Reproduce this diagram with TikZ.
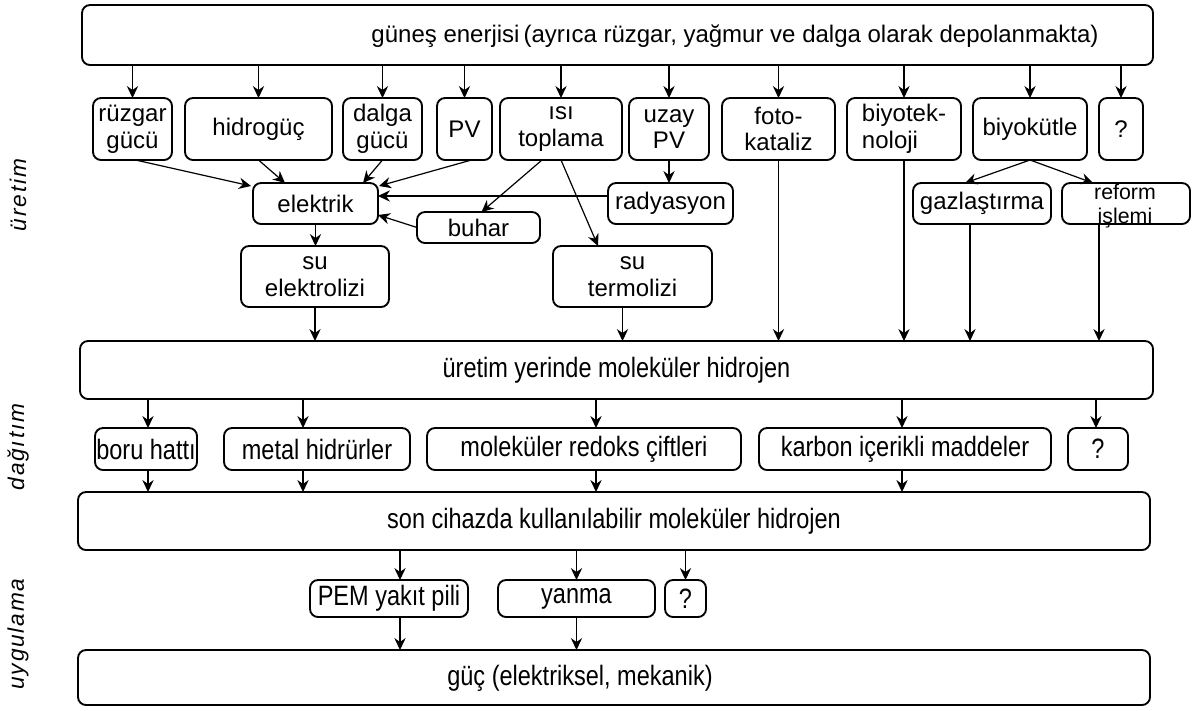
\documentclass[tikz,border=0pt]{standalone}
\usepackage{fontspec}
\setmainfont{Liberation Sans}
\newfontfamily\narrowfont[FakeStretch=0.84]{Liberation Sans}
\newfontfamily\sidefont[LetterSpace=8]{Liberation Sans}
\usetikzlibrary{arrows.meta,calc}
\newcommand\mybox[7]{%
  \pgfmathsetmacro\bxcx{(#3+#5)/2}\pgfmathsetmacro\bxcy{(#4+#6)/2}%
  \pgfmathsetmacro\bxw{(#5-#3)*0.75}\pgfmathsetmacro\bxh{(#6-#4)*0.75}%
  \node[#1, minimum width=\bxw pt, minimum height=\bxh pt] (#2) at (\bxcx,\bxcy) {#7};}
\begin{document}
\begin{tikzpicture}[x=0.75pt,y=-0.75pt,
  bx/.style={draw, line width=1.4pt, rounded corners=6pt, inner sep=0pt, outer sep=0pt, align=center,
    font=\fontsize{18}{20}\selectfont},
  nb/.style={bx, font=\narrowfont\fontsize{21}{22}\selectfont},
  ntxt/.style={inner sep=0pt, font=\narrowfont\fontsize{21}{22}\selectfont},
  arr/.style={line width=0.9pt, -{Stealth[length=9pt,width=8.5pt,inset=3pt]}},
  side/.style={rotate=90, inner sep=0pt, font=\sidefont\itshape\fontsize{17}{17}\selectfont}
]
\useasboundingbox (0,0) rectangle (1197,711);

% side labels
\node[side] (l1) at (18,195) {üretim};
\node[side] (l2) at (18,447) {dağıtım};
\node[side] (l3) at (18,634) {uygulama};

% top box
\mybox{bx}{sun}{82}{5}{1153}{65}{}
\node[inner sep=0pt, font=\fontsize{18}{20}\selectfont] (suntxt) at (735,36)
  {güneş enerjisi\,(ayrıca rüzgar, yağmur ve dalga olarak depolanmakta)};

% row 2
\mybox{bx}{ruz}{93}{98}{172}{160}{rüzgar\\gücü}
\mybox{bx}{hid}{185}{98}{332}{160}{hidrogüç}
\mybox{bx}{dal}{343}{98}{422}{160}{dalga\\gücü}
\mybox{bx}{pv}{437}{98}{492}{160}{PV}
\mybox{bx}{isi}{500}{98}{622}{160}{ısı\\toplama}
\mybox{bx}{uzay}{629}{98}{709}{160}{uzay\\PV}
\mybox{bx}{foto}{722}{98}{835}{160}{foto-\\kataliz}
\mybox{bx,align=left}{biot}{847}{98}{961}{160}{biyotek-\\noloji}
\mybox{bx}{biok}{973}{98}{1087}{160}{biyokütle}
\mybox{bx}{q1}{1099}{98}{1143}{160}{?}

% row 3
\mybox{bx}{elek}{253}{183}{378}{224}{elektrik}
\mybox{bx}{buhar}{417}{212}{540}{243}{buhar}
\mybox{bx}{rad}{608}{183}{733}{224}{radyasyon}
\mybox{bx}{gaz}{913}{183}{1051}{224}{gazlaştırma}
\mybox{bx}{ref}{1062}{183}{1190}{224}{}
\node[inner sep=0pt, align=center, font=\fontsize{16}{17.5}\selectfont] (reftxt) at (1125,206) {reform\\işlemi};

% row 4
\mybox{bx}{suel}{241}{246}{389}{307}{su\\elektrolizi}
\mybox{bx}{sute}{553}{246}{712}{307}{su\\termolizi}

% main 1
\mybox{nb}{main1}{80}{341}{1153}{399}{üretim yerinde moleküler hidrojen}

% distribution
\mybox{nb}{boru}{95}{428}{197}{470}{boru hattı}
\mybox{nb}{metal}{224}{428}{410}{470}{metal hidrürler}
\mybox{nb}{redoks}{427}{428}{741}{470}{moleküler redoks çiftleri}
\mybox{nb}{karbon}{759}{428}{1051}{470}{karbon içerikli maddeler}
\mybox{nb}{q2}{1068}{428}{1128}{470}{?}

% main 2
\mybox{nb}{main2}{78}{492}{1150}{550}{son cihazda kullanılabilir moleküler hidrojen}

% application
\mybox{nb}{pem}{310}{580}{468}{617}{PEM yakıt pili}
\mybox{nb}{yanma}{498}{580}{655}{617}{yanma}
\mybox{nb}{q3}{665}{580}{706}{617}{?}

% final
\mybox{bx}{guc}{78}{650}{1150}{705}{}
\node[ntxt] (guctxt) at (580,678) {güç (elektriksel, mekanik)};

% arrows sun -> row 2
\foreach \n in {ruz,hid,dal,pv,isi,uzay,foto,biot,biok,q1}
  \draw[arr] (\n.north |- sun.south) -- (\n.north);

% into elektrik
\draw[arr] ($(ruz.south)+(3,0)$) -- ($(elek.north west)+(-2,3)$);
\draw[arr] (hid.south) -- ($(elek.north west)+(32,0)$);
\draw[arr] (dal.south) -- ($(elek.north east)+(-15,0)$);
\draw[arr] ($(pv.south)+(7,0)$) -- ($(elek.north east)+(1,3)$);
\draw[arr] ($(rad.north west)+(0,13)$) -- ($(elek.north east)+(0,13)$);
\draw[arr] (buhar.west) -- ($(elek.south east)+(0,-9)$);
% from isi toplama
\draw[arr] ($(isi.south)+(-19,0)$) -- ($(buhar.north)+(3,0)$);
\draw[arr] (isi.south) -- ($(sute.north west)+(45,0)$);
% uzay -> radyasyon
\draw[arr] (uzay.south) -- (uzay.south |- rad.north);
% elektrik -> su elektrolizi
\draw[arr] (elek.south) -- (elek.south |- suel.north);
% biyokutle
\draw[arr] (biok.south) -- ($(gaz.north)+(-17,0)$);
\draw[arr] (biok.south) -- ($(ref.north west)+(31,0)$);

% into main 1
\coordinate (c1) at ($(sute.south)+(-10,0)$);
\coordinate (c2) at ($(gaz.south)+(-12,0)$);
\coordinate (c3) at ($(ref.south)+(-27,0)$);
\draw[arr] (suel.south) -- (suel.south |- main1.north);
\draw[arr] (c1) -- (c1 |- main1.north);
\draw[arr] (foto.south) -- (foto.south |- main1.north);
\draw[arr] (biot.south) -- (biot.south |- main1.north);
\draw[arr] (c2) -- (c2 |- main1.north);
\draw[arr] (c3) -- (c3 |- main1.north);

% main1 -> distribution -> main2
\coordinate (d1) at ($(boru.north)+(2,0)$);
\coordinate (d2) at ($(metal.north)+(-14,0)$);
\coordinate (d3) at ($(redoks.north)+(12,0)$);
\coordinate (d4) at ($(karbon.north)+(-3,0)$);
\coordinate (d5) at ($(q2.north)+(-2,0)$);
\foreach \d/\n in {d1/boru,d2/metal,d3/redoks,d4/karbon,d5/q2}
  \draw[arr] (\d |- main1.south) -- (\d |- \n.north);
\foreach \d/\n in {d1/boru,d2/metal,d3/redoks,d4/karbon}
  \draw[arr] (\d |- \n.south) -- (\d |- main2.north);

% main2 -> application -> final
\coordinate (a1) at ($(pem.north)+(11,0)$);
\coordinate (a2) at (yanma.north);
\coordinate (a3) at (q3.north);
\foreach \d/\n in {a1/pem,a2/yanma,a3/q3}
  \draw[arr] (\d |- main2.south) -- (\d |- \n.north);
\foreach \d/\n in {a1/pem,a2/yanma}
  \draw[arr] (\d |- \n.south) -- (\d |- guc.north);
\end{tikzpicture}
\end{document}
